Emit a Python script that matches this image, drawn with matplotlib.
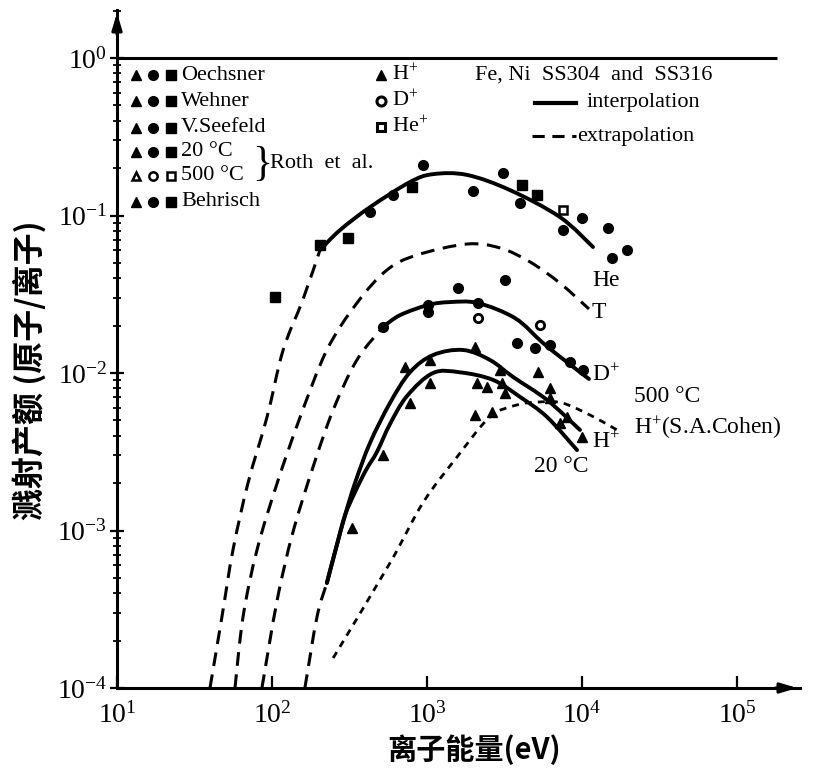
import numpy as np
import matplotlib
matplotlib.use('Agg')
import matplotlib.pyplot as plt
from matplotlib.lines import Line2D
from matplotlib.path import Path
from matplotlib.patches import PathPatch
from matplotlib.ticker import FixedLocator, FixedFormatter, NullLocator, LogLocator, NullFormatter

plt.rcParams['font.family'] = ['Liberation Serif', 'DejaVu Sans']
plt.rcParams['mathtext.fontset'] = 'custom'
plt.rcParams['mathtext.rm'] = 'Liberation Serif'
plt.rcParams['mathtext.it'] = 'Liberation Serif:italic'
plt.rcParams['mathtext.bf'] = 'Liberation Serif:bold'

# ---------------- data ----------------
x_ticks = [1e1, 1e2, 1e3, 1e4, 1e5]
x_ticklabels = [r'$10^{1}$', r'$10^{2}$', r'$10^{3}$', r'$10^{4}$', r'$10^{5}$']
y_ticks = [1e-4, 1e-3, 1e-2, 1e-1, 1e0]
y_ticklabels = [r'$10^{-4}$', r'$10^{-3}$', r'$10^{-2}$', r'$10^{-1}$', r'$10^{0}$']

# He+ interpolation (solid) and extrapolation (dashed)
he_solid_E = [204, 275, 429, 776, 1094, 1811, 3428, 7211, 11776]
he_solid_Y = [0.0604, 0.0809, 0.113, 0.163, 0.183, 0.181, 0.145, 0.0977, 0.0631]
he_dash_E = [39.8, 47.5, 56.0, 70.0, 92.9, 118, 158, 204]
he_dash_Y = [1e-4, 2.82e-4, 7.52e-4, 2.0e-3, 5.26e-3, 0.0140, 0.0291, 0.0604]

# T extrapolation (dashed)
t_dash_E = [57.7, 65.0, 80.0, 108, 152, 226, 353, 552, 861, 1811, 2958, 4624, 7211, 11092]
t_dash_Y = [1e-4, 2.82e-4, 7.52e-4, 2.0e-3, 5.26e-3, 0.0140, 0.0278, 0.0451, 0.0561,
            0.0659, 0.0622, 0.0507, 0.0372, 0.0255]

# D+
d_dash_E = [86.1, 108, 136, 184, 248, 353, 520]
d_dash_Y = [1e-4, 3.62e-4, 9.64e-4, 2.53e-3, 5.82e-3, 0.0121, 0.0196]
d_solid_E = [520, 670, 1014, 1406, 2133, 3698, 5521, 7430, 11092]
d_solid_Y = [0.0196, 0.0233, 0.0270, 0.0282, 0.0278, 0.0223, 0.0157, 0.0124, 0.00916]

# H+
h_dash_E = [163, 195, 226]
h_dash_Y = [1e-4, 2.82e-4, 4.65e-4]
h500_E = [226, 259, 296, 343, 429, 577, 776, 1094, 1706, 2547, 3589, 5943, 9705]
h500_Y = [4.65e-4, 7.74e-4, 1.25e-3, 2.00e-3, 3.60e-3, 6.45e-3, 0.0101, 0.0130,
          0.0140, 0.0121, 9.44e-3, 6.75e-3, 4.35e-3]
h20_E = [226, 259, 296, 343, 404, 475, 577, 743, 1094, 1633, 2667, 3981, 5943, 9290]
h20_Y = [4.65e-4, 7.74e-4, 1.25e-3, 1.75e-3, 2.42e-3, 3.15e-3, 4.74e-3, 7.14e-3,
         0.0100, 0.0101, 9.04e-3, 7.05e-3, 5.26e-3, 3.24e-3]

# H+ (S.A. Cohen) 500 C
cohen_E = [248, 577, 942, 1563, 2547, 3811, 5358, 7430, 11272, 16827]
cohen_Y = [1.55e-4, 6.22e-4, 1.50e-3, 2.93e-3, 5.26e-3, 6.27e-3, 6.55e-3, 6.46e-3,
           5.41e-3, 4.35e-3]

# measured points
he_sq_E = [104, 204, 309, 800, 4100, 5130]
he_sq_Y = [0.0304, 0.065, 0.072, 0.152, 0.156, 0.135]
he_circ_E = [428, 604, 942, 1980, 3090, 3980, 10000, 7540, 14700, 15600, 19500]
he_circ_Y = [0.105, 0.135, 0.209, 0.143, 0.186, 0.120, 0.096, 0.081, 0.083, 0.054, 0.060]
he_open_E = [7540]
he_open_Y = [0.108]

d_fill_E = [1585, 3180, 520, 1015, 1015, 2130, 3800, 4980, 6220, 8380, 10150]
d_fill_Y = [0.0347, 0.0389, 0.0196, 0.0270, 0.0244, 0.0278, 0.0155, 0.0144, 0.0151,
            0.0117, 0.0104]
d_open_E = [2130, 5360]
d_open_Y = [0.0223, 0.0202]

h_tri_E = [721, 1045, 2040, 2960, 5200, 6220, 8000, 10000,
           777, 1045, 2100, 2440, 3050, 3190, 6220, 7210, 520, 328, 2040, 2620]
h_tri_Y = [0.0109, 0.0121, 0.0146, 0.0104, 0.0101, 0.00803, 0.00526, 0.00392,
           0.00645, 0.00864, 0.00864, 0.00815, 0.00864, 0.00746, 0.00694, 0.00482,
           0.00301, 0.00104, 0.00541, 0.00565]

# ---------------- figure ----------------
W, H = 835, 778
fig = plt.figure(figsize=(W / 100, H / 100), dpi=100)
fig.patch.set_facecolor('white')
ax_l, ax_r, ax_t, ax_b = 117, 800, 10, 688
ax = fig.add_axes([ax_l / W, (H - ax_b) / H, (ax_r - ax_l) / W, (ax_b - ax_t) / H])
ax.set_xscale('log')
ax.set_yscale('log')
ax.set_xlim(10, 10 ** (1 + (ax_r - ax_l) / 155.0))
ax.set_ylim(1e-4, 10 ** ((58 - ax_t) / 157.5))

for s in ['top', 'right']:
    ax.spines[s].set_visible(False)
for s in ['left', 'bottom']:
    ax.spines[s].set_linewidth(2.2)

ax.xaxis.set_major_locator(FixedLocator(x_ticks))
ax.xaxis.set_major_formatter(FixedFormatter(x_ticklabels))
ax.xaxis.set_minor_locator(NullLocator())
ax.yaxis.set_major_locator(FixedLocator(y_ticks))
ax.yaxis.set_major_formatter(FixedFormatter(y_ticklabels))
ax.yaxis.set_minor_locator(LogLocator(base=10, subs=np.arange(2, 10), numticks=20))
ax.yaxis.set_minor_formatter(NullFormatter())
ax.tick_params(axis='x', which='major', direction='in', length=9, width=1.6,
               labelsize=20, pad=10)
ax.tick_params(axis='y', which='major', direction='inout', length=10, width=1.6,
               labelsize=20, pad=2)
ax.tick_params(axis='y', which='minor', direction='inout', length=6, width=1.3)

# top line at 10^0
ax.plot([10, 10 ** 5.26], [1, 1], color='k', lw=2.2, clip_on=False, solid_capstyle='butt')

# arrows
ax.annotate('', xy=(1.0, 0), xytext=(0.96, 0), xycoords='axes fraction',
            arrowprops=dict(arrowstyle='-|>,head_length=1.0,head_width=0.3',
                            color='k', lw=2.2), annotation_clip=False)
ax.annotate('', xy=(0, 1.0), xytext=(0, 0.96), xycoords='axes fraction',
            arrowprops=dict(arrowstyle='-|>,head_length=1.0,head_width=0.3',
                            color='k', lw=2.2), annotation_clip=False)


def smooth_curve(E, Y, **kw):
    """Draw the read points as a smooth (Catmull-Rom) Bezier path on the log axes."""
    lx = np.log10(np.asarray(E, float))
    ly = np.log10(np.asarray(Y, float))
    P = np.column_stack([lx, ly])
    n = len(P)
    verts = [P[0]]
    codes = [Path.MOVETO]
    for i in range(n - 1):
        p0 = P[i - 1] if i > 0 else P[i]
        p1 = P[i]
        p2 = P[i + 1]
        p3 = P[i + 2] if i + 2 < n else P[i + 1]
        c1 = p1 + (p2 - p0) / 6.0
        c2 = p2 - (p3 - p1) / 6.0
        verts += [c1, c2, p2]
        codes += [Path.CURVE4] * 3
    V = 10 ** np.array(verts)
    patch = PathPatch(Path(V, codes), fill=False, **kw)
    ax.add_patch(patch)


solid_kw = dict(edgecolor='k', lw=2.8, capstyle='round')
dash_kw = dict(edgecolor='k', lw=2.2, linestyle=(0, (4.5, 2.8)))
dot_kw = dict(edgecolor='k', lw=2.0, linestyle=(0, (2.5, 2.2)))

smooth_curve(he_solid_E, he_solid_Y, **solid_kw)
smooth_curve(he_dash_E, he_dash_Y, **dash_kw)
smooth_curve(t_dash_E, t_dash_Y, **dash_kw)
smooth_curve(d_dash_E, d_dash_Y, **dash_kw)
smooth_curve(d_solid_E, d_solid_Y, **solid_kw)
smooth_curve(h_dash_E, h_dash_Y, **dash_kw)
smooth_curve(h500_E, h500_Y, **solid_kw)
smooth_curve(h20_E, h20_Y, **solid_kw)
smooth_curve(cohen_E, cohen_Y, **dot_kw)

mk = dict(color='k', ls='none')
ax.plot(he_sq_E, he_sq_Y, marker='s', ms=6.5, **mk)
ax.plot(he_circ_E, he_circ_Y, marker='o', ms=7, **mk)
ax.plot(he_open_E, he_open_Y, marker='s', ms=5.5, mfc='white', mec='k', mew=1.8, **mk)
ax.plot(d_fill_E, d_fill_Y, marker='o', ms=7, **mk)
ax.plot(d_open_E, d_open_Y, marker='o', ms=6, mfc='white', mec='k', mew=2, **mk)
ax.plot(h_tri_E, h_tri_Y, marker='^', ms=7, **mk)

# ---------------- texts ----------------
def fx(px):
    return px / W

def fy(py):
    return 1 - py / H

tfs = 17
fig.text(fx(592), fy(280), 'He', fontsize=tfs, va='center')
fig.text(fx(592), fy(313), 'T', fontsize=tfs, va='center')
fig.text(fx(592), fy(375), r'D$^{+}$', fontsize=tfs, va='center')
fig.text(fx(634), fy(396), '500 °C', fontsize=tfs, va='center')
fig.text(fx(634), fy(428), r'H$^{+}$(S.A.Cohen)', fontsize=tfs, va='center')
fig.text(fx(592), fy(442), r'H$^{+}$', fontsize=tfs, va='center')
fig.text(fx(534), fy(466), '20 °C', fontsize=tfs, va='center')

# legend block (upper left)
lfs = 16
rows_y = [75, 101, 128, 152, 176, 202]
row_txt = ['Oechsner', 'Wehner', 'V.Seefeld', '20 °C', '500 °C', 'Behrisch']
for i, (yy, tt) in enumerate(zip(rows_y, row_txt)):
    open_ = (i == 4)
    for xx, m, s in [(136, '^', 6.5), (153, 'o', 7), (171, 's', 6.5)]:
        if open_:
            fig.add_artist(Line2D([fx(xx)], [fy(yy)], marker=m, ms=s - 1, mfc='white',
                                  mec='k', mew=1.8, ls='none'))
        else:
            fig.add_artist(Line2D([fx(xx)], [fy(yy)], marker=m, ms=s, color='k', ls='none'))
    fig.text(fx(181), fy(yy), tt, fontsize=lfs, va='center')
fig.text(fx(252), fy(165), '}', fontsize=30, va='center')
fig.text(fx(270), fy(164), 'Roth  et  al.', fontsize=lfs, va='center')

fig.add_artist(Line2D([fx(381)], [fy(75)], marker='^', ms=7, color='k', ls='none'))
fig.add_artist(Line2D([fx(381)], [fy(101)], marker='o', ms=6.5, mfc='white', mec='k',
                      mew=2.2, ls='none'))
fig.add_artist(Line2D([fx(381)], [fy(127)], marker='s', ms=5.5, mfc='white', mec='k',
                      mew=2.2, ls='none'))
fig.text(fx(392), fy(75), r'H$^{+}$', fontsize=lfs, va='center')
fig.text(fx(392), fy(101), r'D$^{+}$', fontsize=lfs, va='center')
fig.text(fx(392), fy(127), r'He$^{+}$', fontsize=lfs, va='center')

fig.text(fx(475), fy(75), 'Fe, Ni  SS304  and  SS316', fontsize=lfs, va='center')
fig.add_artist(Line2D([fx(535), fx(576)], [fy(103), fy(103)], color='k', lw=3))
fig.text(fx(587), fy(103), 'interpolation', fontsize=lfs, va='center')
fig.add_artist(Line2D([fx(532), fx(576)], [fy(136), fy(136)], color='k', lw=2.2,
                      dashes=(4, 2.5)))
fig.text(fx(577), fy(136), 'extrapolation', fontsize=lfs, va='center')

# axis titles
cjk = ['Noto Sans CJK SC', 'DejaVu Sans']
fig.text(fx(474), fy(750), '离子能量(eV)', fontsize=21, fontweight='bold',
         family=cjk, ha='center', va='center')
fig.text(fx(30), fy(370), '溅射产额 (原子/离子)', fontsize=23, fontweight='bold',
         family=cjk, ha='center', va='center', rotation=90)

fig.savefig('out.png', dpi=100)
